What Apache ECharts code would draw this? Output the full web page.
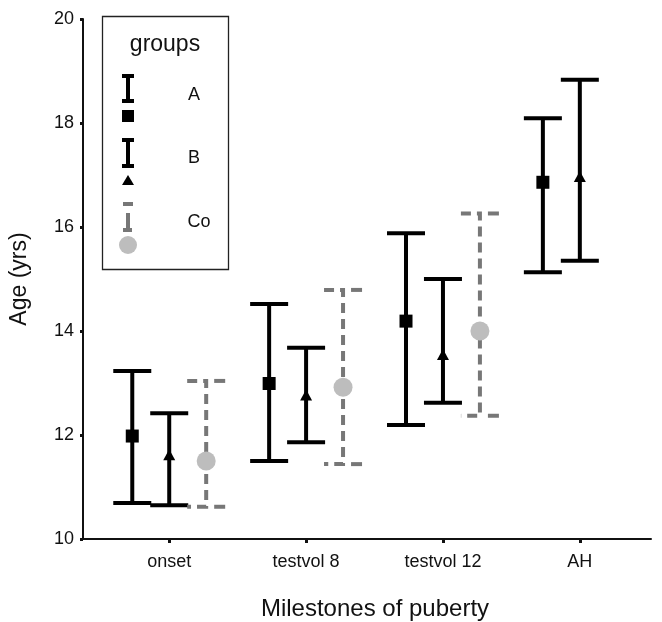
<!DOCTYPE html>
<html>
<head>
<meta charset="utf-8">
<script src="https://cdn.jsdelivr.net/npm/echarts@6/dist/echarts.min.js"></script>
<style>html,body{margin:0;padding:0;background:#fff;}#c{width:662px;height:622px;}</style>
</head>
<body>
<div id="c"></div>
<script>
const categories = ['onset', 'testvol 8', 'testvol 12', 'AH'];
const yTicks = [10, 12, 14, 16, 18, 20];

const aMean = [11.98, 12.99, 14.19, 16.86];
const aLow  = [10.69, 11.50, 12.19, 15.13];
const aHigh = [13.23, 14.52, 15.88, 18.09];

const bMean = [11.62, 12.77, 13.55, 16.97];
const bLow  = [10.65, 11.86, 12.62, 15.35];
const bHigh = [12.42, 13.68, 15.00, 18.83];

const coMean = [11.50, 12.92, 14.00];
const coLow  = [10.62, 11.44, 12.37];
const coHigh = [13.04, 14.79, 16.26];

const OFF = 0.27;
const FONT = '"Liberation Sans", Arial, sans-serif';

function pts(mean, off) { return mean.map((v, i) => [i + 1 + off, v]); }
function bars(lo, hi, off) { return lo.map((v, i) => [i + 1 + off, v, hi[i]]); }

function errRender(dashed) {
  return function (params, api) {
    const x = api.value(0);
    const top = api.coord([x, api.value(2)]);
    const bot = api.coord([x, api.value(1)]);
    const cx = top[0], hw = 19;
    if (!dashed) {
      const st = { stroke: '#000', lineWidth: 4 };
      return { type: 'group', children: [
        { type: 'line', shape: { x1: cx, y1: top[1], x2: cx, y2: bot[1] }, style: st },
        { type: 'line', shape: { x1: cx - hw, y1: top[1], x2: cx + hw, y2: top[1] }, style: st },
        { type: 'line', shape: { x1: cx - hw, y1: bot[1], x2: cx + hw, y2: bot[1] }, style: st }
      ]};
    }
    const st = { stroke: '#777', lineWidth: 4, lineDash: [10, 6], fill: null };
    return { type: 'group', children: [
      { type: 'polyline', shape: { points: [[cx - hw, top[1]], [cx, top[1]], [cx, bot[1]], [cx - hw, bot[1]]] }, style: st },
      { type: 'line', shape: { x1: cx + 8, y1: top[1], x2: cx + hw, y2: top[1] }, style: { stroke: '#777', lineWidth: 4 } },
      { type: 'line', shape: { x1: cx + 8, y1: bot[1], x2: cx + hw, y2: bot[1] }, style: { stroke: '#777', lineWidth: 4 } }
    ]};
  };
}

const chart = echarts.init(document.getElementById('c'), null, { renderer: 'canvas' });

const lg = [];
lg.push({ type: 'rect', shape: { x: 102.5, y: 16.5, width: 126, height: 253 }, style: { fill: '#fff', stroke: '#222', lineWidth: 1.3 }, z: 100 });
lg.push({ type: 'text', x: 165, y: 45, style: { text: 'groups', font: '23px ' + FONT, fill: '#111', textAlign: 'center', textVerticalAlign: 'middle' }, z: 101 });
function ibeam(x, y1, y2, color, dashed) {
  const st = { stroke: color, lineWidth: 4 };
  if (dashed) {
    lg.push({ type: 'line', shape: { x1: x - 5, y1: y1, x2: x + 5, y2: y1 }, style: st, z: 101 });
    lg.push({ type: 'line', shape: { x1: x, y1: y1 + 9, x2: x, y2: y2 }, style: st, z: 101 });
    lg.push({ type: 'line', shape: { x1: x - 5, y1: y2, x2: x + 4, y2: y2 }, style: st, z: 101 });
  } else {
    lg.push({ type: 'line', shape: { x1: x, y1: y1, x2: x, y2: y2 }, style: st, z: 101 });
    lg.push({ type: 'line', shape: { x1: x - 6, y1: y1, x2: x + 6, y2: y1 }, style: st, z: 101 });
    lg.push({ type: 'line', shape: { x1: x - 6, y1: y2, x2: x + 6, y2: y2 }, style: st, z: 101 });
  }
}
ibeam(128, 76, 101, '#000', false);
lg.push({ type: 'rect', shape: { x: 122, y: 110, width: 12, height: 12 }, style: { fill: '#000' }, z: 101 });
lg.push({ type: 'text', x: 194, y: 95, style: { text: 'A', font: '18px ' + FONT, fill: '#111', textAlign: 'center', textVerticalAlign: 'middle' }, z: 101 });
ibeam(128, 140, 166, '#000', false);
lg.push({ type: 'polygon', shape: { points: [[128, 175], [122, 185], [134, 185]] }, style: { fill: '#000' }, z: 101 });
lg.push({ type: 'text', x: 194, y: 158, style: { text: 'B', font: '18px ' + FONT, fill: '#111', textAlign: 'center', textVerticalAlign: 'middle' }, z: 101 });
ibeam(128, 204, 230, '#777', true);
lg.push({ type: 'circle', shape: { cx: 128, cy: 245, r: 9 }, style: { fill: '#bdbdbd' }, z: 101 });
lg.push({ type: 'text', x: 199, y: 222, style: { text: 'Co', font: '18px ' + FONT, fill: '#111', textAlign: 'center', textVerticalAlign: 'middle' }, z: 101 });

chart.setOption({
  animation: false,
  backgroundColor: '#fff',
  grid: { left: 83, right: 11, top: 19, bottom: 83, outerBoundsMode: 'none', containLabel: false },
  xAxis: {
    type: 'value', min: 0.37, max: 4.52,
    name: 'Milestones of puberty', nameLocation: 'middle', nameGap: 58,
    nameTextStyle: { fontSize: 24, color: '#111', fontFamily: FONT, padding: [0, 0, 0, 16] },
    splitLine: { show: false },
    axisLine: { show: true, onZero: false, lineStyle: { color: '#111', width: 2 } },
    axisTick: { show: true, customValues: [1, 2, 3, 4], length: 4, lineStyle: { color: '#111', width: 3 } },
    axisLabel: { customValues: [1, 2, 3, 4], formatter: v => categories[Math.round(v) - 1], fontSize: 18, color: '#111', fontFamily: FONT, margin: 14 }
  },
  yAxis: {
    type: 'value', min: yTicks[0], max: yTicks[yTicks.length - 1], interval: 2,
    name: 'Age (yrs)', nameLocation: 'middle', nameGap: 52,
    nameTextStyle: { fontSize: 23, color: '#111', fontFamily: FONT },
    splitLine: { show: false },
    axisLine: { show: true, lineStyle: { color: '#111', width: 2 } },
    axisTick: { show: true, length: 3, lineStyle: { color: '#111', width: 3 } },
    axisLabel: { fontSize: 18, color: '#111', fontFamily: FONT, margin: 9 }
  },
  graphic: lg,
  series: [
    { type: 'custom', renderItem: errRender(false), data: bars(aLow, aHigh, -OFF), encode: { x: 0, y: [1, 2] }, z: 2 },
    { type: 'custom', renderItem: errRender(false), data: bars(bLow, bHigh, 0), encode: { x: 0, y: [1, 2] }, z: 2 },
    { type: 'custom', renderItem: errRender(true), data: bars(coLow, coHigh, OFF), encode: { x: 0, y: [1, 2] }, z: 2 },
    { type: 'scatter', data: pts(aMean, -OFF), symbol: 'rect', symbolSize: 13, itemStyle: { color: '#000', opacity: 1 }, z: 5 },
    { type: 'scatter', data: pts(bMean, 0), symbol: 'triangle', symbolSize: [12, 11], itemStyle: { color: '#000', opacity: 1 }, z: 5 },
    { type: 'scatter', data: pts(coMean, OFF), symbol: 'circle', symbolSize: 19, itemStyle: { color: '#bdbdbd', opacity: 1 }, z: 5 }
  ]
});
</script>
</body>
</html>
